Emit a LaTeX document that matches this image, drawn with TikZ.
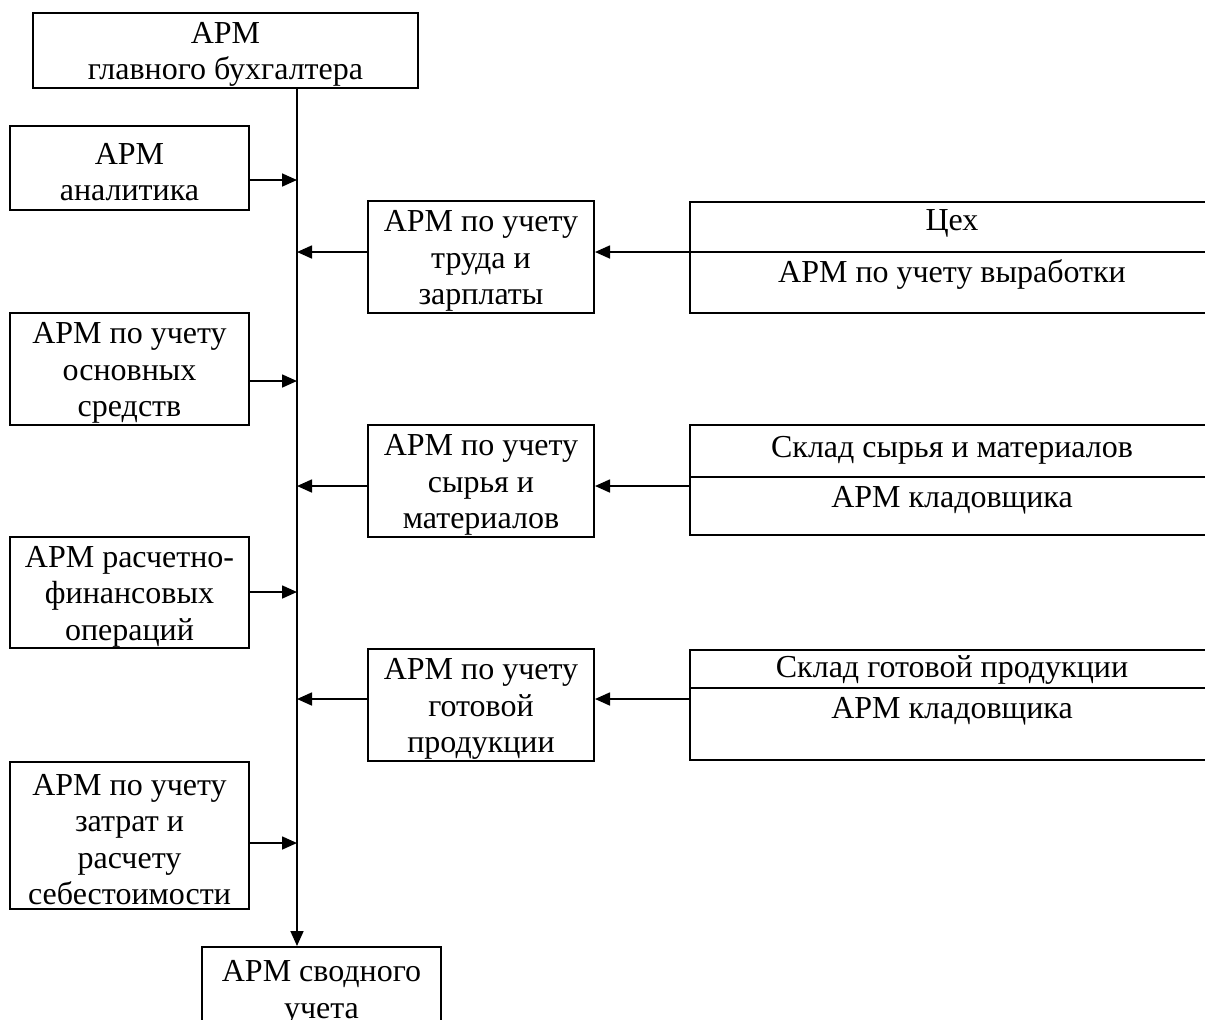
\documentclass[tikz,border=0pt]{standalone}
\usepackage{fontspec}
\setmainfont{Liberation Serif}
\usetikzlibrary{arrows.meta}
\begin{document}
\begin{tikzpicture}[x=0.5pt,y=-0.5pt,
 box/.style={draw, line width=1pt, rectangle, inner sep=0pt},
 btext/.style={inner sep=0pt, align=center, yshift=-2pt, font=\fontsize{16}{18.25}\selectfont},
 txt/.style={inner sep=0pt, anchor=base, font=\fontsize{16}{18.25}\selectfont},
 divline/.style={line width=1pt},
 conn/.style={line width=0.85pt, -{Triangle[length=7.5pt,width=6.5pt]}}]
\useasboundingbox (0,0) rectangle (1205,1019);
\clip (0,0) rectangle (1205,1019);

% boxes
\node[box, minimum width=192.5pt, minimum height=37.5pt, label={[btext]center:{АРМ\\главного бухгалтера}}] (top) at (225.5,50.5) {};
\node[box, minimum width=119.5pt, minimum height=42pt, label={[btext]center:{АРМ\\аналитика}}] (A) at (129.5,168) {};
\node[box, minimum width=119.5pt, minimum height=56pt, label={[btext]center:{АРМ по учету\\основных\\средств}}] (B) at (129.5,369) {};
\node[box, minimum width=119.5pt, minimum height=55.5pt, label={[btext]center:{АРМ расчетно-\\финансовых\\операций}}] (C) at (129.5,592.5) {};
\node[box, minimum width=119.5pt, minimum height=73.5pt, label={[btext]center:{АРМ по учету\\затрат и\\расчету\\себестоимости}}] (D) at (129.5,835.5) {};
\node[box, minimum width=113pt, minimum height=56pt, label={[btext]center:{АРМ по учету\\труда и\\зарплаты}}] (M1) at (481,257) {};
\node[box, minimum width=113pt, minimum height=56pt, label={[btext]center:{АРМ по учету\\сырья и\\материалов}}] (M2) at (481,481) {};
\node[box, minimum width=113pt, minimum height=56pt, label={[btext]center:{АРМ по учету\\готовой\\продукции}}] (M3) at (481,705) {};
\node[box, minimum width=262pt, minimum height=55.5pt] (R1) at (952,257.5) {};
\node[box, minimum width=262pt, minimum height=55pt] (R2) at (952,480) {};
\node[box, minimum width=262pt, minimum height=55pt] (R3) at (952,705) {};
\node[box, minimum width=119.5pt, minimum height=44pt, label={[btext, yshift=1pt]center:{АРМ сводного\\учета}}] (bot) at (321.5,991) {};

% right box dividers and texts
\coordinate (d1) at (0,252);
\coordinate (d2) at (0,477);
\coordinate (d3) at (0,688);
\draw[divline] (R1.west |- d1) -- (R1.east |- d1);
\draw[divline] (R2.west |- d2) -- (R2.east |- d2);
\draw[divline] (R3.west |- d3) -- (R3.east |- d3);
\node[txt] (R1a) at (952,230) {Цех};
\node[txt] (R1b) at (952,282) {АРМ по учету выработки};
\node[txt] (R2a) at (952,457) {Склад сырья и материалов};
\node[txt] (R2b) at (952,507) {АРМ кладовщика};
\node[txt] (R3a) at (952,677) {Склад готовой продукции};
\node[txt] (R3b) at (952,718) {АРМ кладовщика};

% spine
\coordinate (sp) at (297,0);
\draw[conn] (top.south -| sp) -- (bot.north -| sp);

% junctions on spine
\coordinate (jA) at (297,180);
\coordinate (jB) at (297,381);
\coordinate (jC) at (297,592);
\coordinate (jD) at (297,843);
\coordinate (j1) at (297,252);
\coordinate (j2) at (297,486);
\coordinate (j3) at (297,699);

\draw[conn] (A.east |- jA) -- (jA);
\draw[conn] (B.east |- jB) -- (jB);
\draw[conn] (C.east |- jC) -- (jC);
\draw[conn] (D.east |- jD) -- (jD);

\draw[conn] (M1.west |- j1) -- (j1);
\draw[conn] (M2.west |- j2) -- (j2);
\draw[conn] (M3.west |- j3) -- (j3);

\draw[conn] (R1.west |- j1) -- (M1.east |- j1);
\draw[conn] (R2.west |- j2) -- (M2.east |- j2);
\draw[conn] (R3.west |- j3) -- (M3.east |- j3);
\end{tikzpicture}
\end{document}
